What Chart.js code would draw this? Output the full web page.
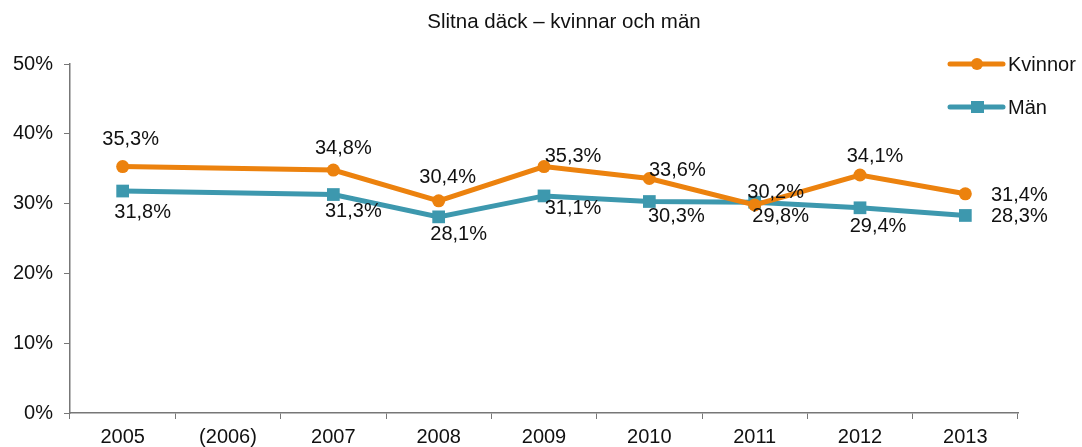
<!DOCTYPE html>
<html>
<head>
<meta charset="utf-8">
<script src="https://cdn.jsdelivr.net/npm/chart.js@4.4.1/dist/chart.umd.min.js"></script>
<style>
  html, body { margin: 0; padding: 0; background: #fff; }
  #wrap { width: 1082px; height: 447px; position: relative; }
</style>
</head>
<body>
<div id="wrap"><canvas id="chartDack"></canvas></div>
<script>
var years = ['2005', '(2006)', '2007', '2008', '2009', '2010', '2011', '2012', '2013'];
var kvinnor = [35.3, null, 34.8, 30.4, 35.3, 33.6, 29.8, 34.1, 31.4];
var man = [31.8, null, 31.3, 28.1, 31.1, 30.3, 30.2, 29.4, 28.3];
var yTicks = [0, 10, 20, 30, 40, 50];

// label offsets from the point (px)
var kvinnorLabelDx = [8, 0, 10, 9, 29, 28, 26, 15, 54];
var kvinnorLabelDy = [-27, 0, -22, -23, -10, -8, 11, -18, 2];
var manLabelDx = [20, 0, 20, 20, 29, 27, 21, 18, 54];
var manLabelDy = [21, 0, 17, 18, 13, 15, -10, 19, 1];

var orange = '#EC820E';
var teal = '#3D98AE';
var fontFam = '"Liberation Sans", Arial, Helvetica, sans-serif';

function fmt(v){
	return v.toFixed(1).replace('.', ',') + '%';
}

var extras = {
	id: 'extras',
	afterDatasetsDraw: function(chart){
		var ctx = chart.ctx;
		ctx.save();
		ctx.fillStyle = '#111';
		ctx.font = '20px ' + fontFam;
		ctx.textAlign = 'center';
		ctx.textBaseline = 'middle';
		var offs = [[kvinnorLabelDx, kvinnorLabelDy], [manLabelDx, manLabelDy]];
		chart.data.datasets.forEach(function(ds, di){
			var meta = chart.getDatasetMeta(di);
			meta.data.forEach(function(pt, i){
				var v = ds.data[i];
				if (v === null) return;
				ctx.fillText(fmt(v), pt.x + offs[di][0][i], pt.y + offs[di][1][i]);
			});
		});

		// title
		ctx.font = '20.5px ' + fontFam;
		ctx.fillText('Slitna däck – kvinnar och män', 564, 22);

		// legend
		var legY = [64, 107];
		chart.data.datasets.forEach(function(ds, di){
			var y = legY[di];
			ctx.strokeStyle = ds.borderColor;
			ctx.lineWidth = 5;
			ctx.lineCap = 'round';
			ctx.beginPath();
			ctx.moveTo(950, y);
			ctx.lineTo(1003, y);
			ctx.stroke();
			ctx.fillStyle = ds.borderColor;
			if (ds.pointStyle === 'circle') {
				ctx.beginPath();
				ctx.arc(977, y, 6, 0, Math.PI * 2);
				ctx.fill();
			} else {
				ctx.fillRect(971, y - 6, 13, 12);
			}
			ctx.fillStyle = '#111';
			ctx.font = '20px ' + fontFam;
			ctx.textAlign = 'left';
			ctx.fillText(ds.label, 1008, y + 1);
		});
		ctx.restore();
	}
};

new Chart(document.getElementById('chartDack'), {
	type: 'line',
	data: {
		labels: years,
		datasets: [
			{
				label: 'Kvinnor',
				data: kvinnor,
				borderColor: orange,
				backgroundColor: orange,
				borderWidth: 5,
				pointStyle: 'circle',
				pointRadius: 6.5,
				pointBorderWidth: 0,
				pointHoverRadius: 6.5,
				spanGaps: true,
				tension: 0
			},
			{
				label: 'Män',
				data: man,
				borderColor: teal,
				backgroundColor: teal,
				borderWidth: 5,
				pointStyle: 'rect',
				pointRadius: 9,
				pointBorderWidth: 0,
				pointHoverRadius: 9,
				spanGaps: true,
				tension: 0
			}
		]
	},
	plugins: [extras],
	options: {
		responsive: true,
		maintainAspectRatio: false,
		animation: false,
		events: [],
		layout: { padding: { top: 64, right: 64, left: 0, bottom: 0 } },
		plugins: {
			legend: { display: false },
			title: { display: false },
			tooltip: { enabled: false }
		},
		scales: {
			x: {
				offset: true,
				grid: { offset: true, drawOnChartArea: false, tickLength: 6, color: '#777', lineWidth: 1 },
				border: { color: '#777', width: 1.5 },
				ticks: { color: '#111', font: { size: 20, family: fontFam }, padding: 6, maxRotation: 0 },
				afterFit: function(s){ s.height = 34; }
			},
			y: {
				min: 0,
				max: 50,
				afterBuildTicks: function(s){ s.ticks = yTicks.map(function(v){ return { value: v }; }); },
				grid: { drawOnChartArea: false, tickLength: 6, color: '#777', lineWidth: 1 },
				border: { color: '#777', width: 1.5 },
				ticks: {
					color: '#111',
					font: { size: 20, family: fontFam },
					padding: 11,
					callback: function(v){ return v + '%'; }
				},
				afterFit: function(s){ s.width = 70; }
			}
		}
	}
});
</script>
</body>
</html>
